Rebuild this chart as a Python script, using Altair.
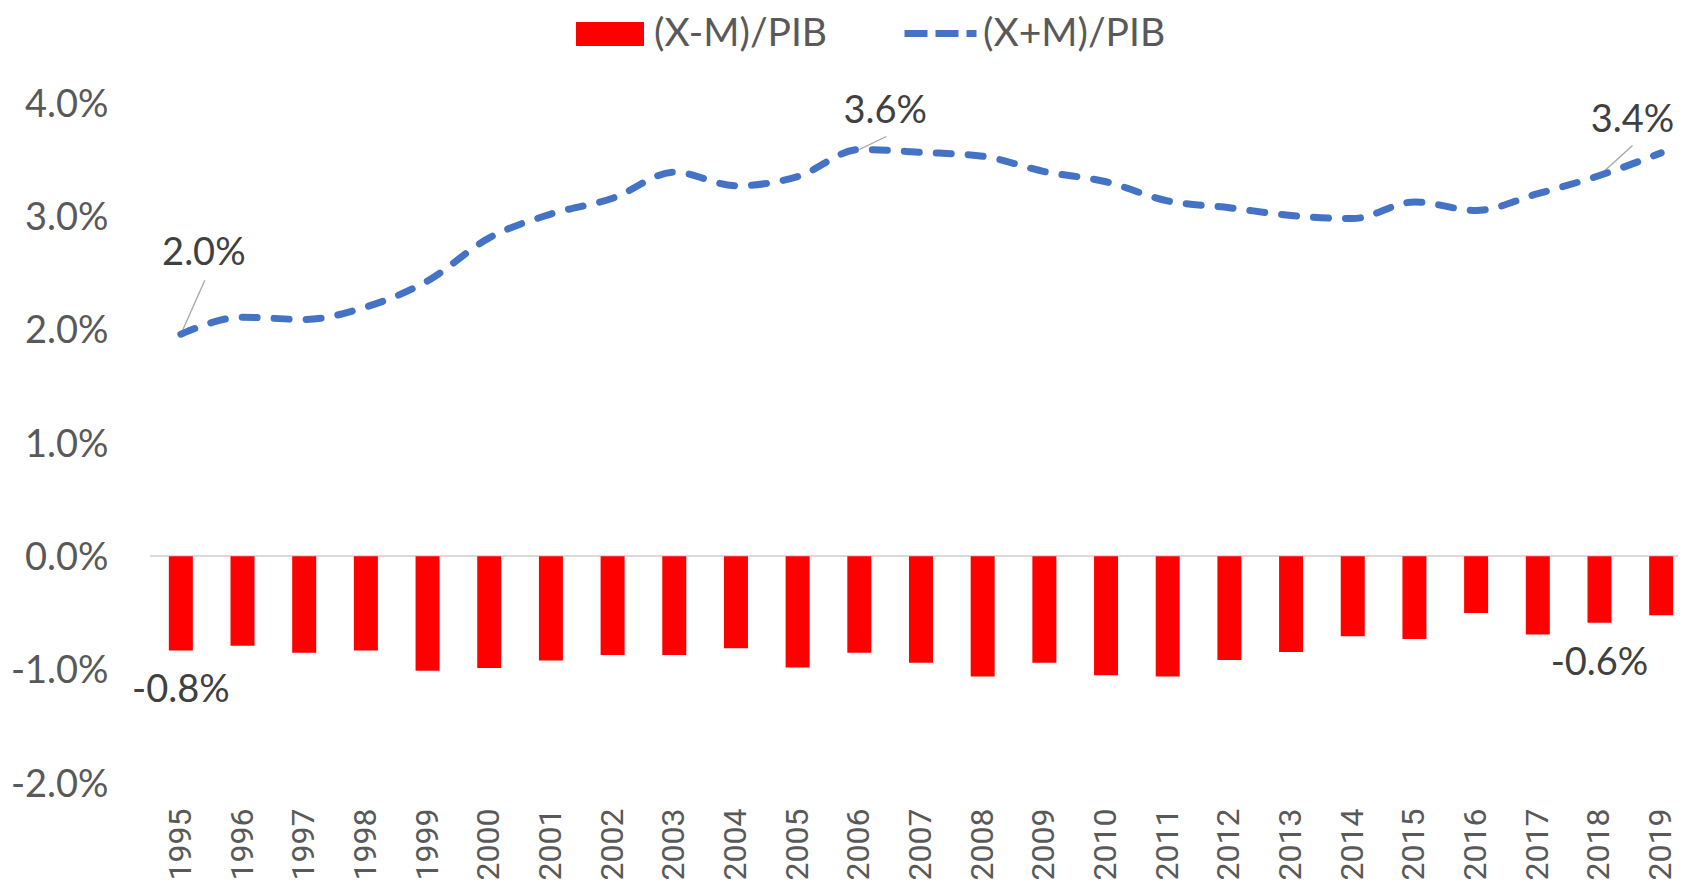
import altair as alt
import pandas as pd

years = [str(y) for y in range(1995, 2020)]
# (X-M)/PIB in %
balance = [-0.83, -0.79, -0.85, -0.83, -1.01, -0.985, -0.92, -0.87, -0.87, -0.81,
           -0.98, -0.85, -0.94, -1.06, -0.94, -1.05, -1.06, -0.915, -0.845, -0.705,
           -0.73, -0.50, -0.69, -0.585, -0.52]
# (X+M)/PIB in %
openness = [1.96, 2.11, 2.09, 2.20, 2.43, 2.81, 3.02, 3.16, 3.39, 3.27,
            3.35, 3.59, 3.565, 3.53, 3.395, 3.305, 3.136, 3.076, 3.007, 2.98,
            3.127, 3.052, 3.20, 3.36, 3.56]
y_ticks = [-0.02, -0.01, 0.0, 0.01, 0.02, 0.03, 0.04]
bar_name = "(X-M)/PIB"
line_name = "(X+M)/PIB"

df = pd.DataFrame({
    "year": years,
    "bal": [v / 100 for v in balance],
    "opn": [v / 100 for v in openness],
    "s1": bar_name,
    "s2": line_name,
})

LABEL_FONT = "Lato"
YEAR_FONT = "Roboto, sans-serif"
AXIS_GRAY = "#595959"
DATA_GRAY = "#404040"

x_enc = alt.X(
    "year:N",
    sort=years,
    scale=alt.Scale(range=[0, 1542], paddingInner=0.6, paddingOuter=0.3),
    axis=alt.Axis(
        title=None, labelAngle=-90, labelAlign="right", labelBaseline="middle",
        labelFont=YEAR_FONT, labelFontSize=32, labelColor=AXIS_GRAY,
        domain=False, ticks=False, tickSize=0, labelPadding=25, grid=False,
    ),
)
y_scale = alt.Scale(domain=[-0.02, 0.04], nice=False)
y_axis = alt.Axis(
    title=None, values=y_ticks,
    labelExpr="replace(format(datum.value, '.1%'), '\u2212', '-')",
    labelFont=LABEL_FONT, labelFontSize=38, labelColor=AXIS_GRAY,
    domain=False, ticks=False, tickSize=0, labelPadding=42, labelOffset=2,
    grid=False,
)

base = alt.Chart(df).transform_calculate(
    bal_lab="replace(format(datum.bal, '.1%'), '\u2212', '-')",
    opn_lab="replace(format(datum.opn, '.1%'), '\u2212', '-')",
)

zero = base.mark_rule(color="#D9D9D9", strokeWidth=1.5).encode(
    y=alt.datum(0, scale=y_scale, axis=y_axis)
)

bars = base.mark_bar(size=24).encode(
    x=x_enc,
    y=alt.Y("bal:Q", scale=y_scale, axis=y_axis),
    fill=alt.Fill(
        "s1:N",
        scale=alt.Scale(domain=[bar_name], range=["#FF0000"]),
        legend=alt.Legend(
            orient="none", legendX=426, legendY=-103, title=None,
            symbolType="M-1,-0.353H1V0.353H-1Z", symbolSize=4624,
            symbolStrokeWidth=0, labelFont=LABEL_FONT, labelFontSize=39,
            labelColor=AXIS_GRAY, labelOffset=10, labelLimit=400, padding=0,
        ),
    ),
)

line = base.mark_line(
    strokeWidth=7, strokeDash=[15, 17], strokeCap="round", interpolate="monotone"
).encode(
    x=x_enc,
    y=alt.Y("opn:Q", scale=y_scale, axis=y_axis),
    stroke=alt.Stroke(
        "s2:N",
        scale=alt.Scale(domain=[line_name], range=["#4472C4"]),
        legend=alt.Legend(
            orient="none", legendX=751, legendY=-109, title=None,
            symbolType="stroke", symbolSize=5184, symbolStrokeWidth=7,
            symbolDash=[23, 8], labelFont=LABEL_FONT, labelFontSize=39,
            labelColor=AXIS_GRAY, labelOffset=3, labelLimit=400, padding=0,
        ),
    ),
)

bar_labels = base.transform_filter(
    alt.FieldOneOfPredicate(field="year", oneOf=["1995", "2018"])
).mark_text(
    dy=41, font=LABEL_FONT, fontSize=38, color=DATA_GRAY, baseline="middle"
).encode(x=x_enc, y=alt.Y("bal:Q", scale=y_scale), text="bal_lab:N")


def line_note(year, dx, dy, lx, ly):
    sub = base.transform_filter(alt.datum.year == year)
    txt = sub.mark_text(
        dx=dx, dy=dy, font=LABEL_FONT, fontSize=38, color=DATA_GRAY, baseline="middle"
    ).encode(x=x_enc, y=alt.Y("opn:Q", scale=y_scale), text="opn_lab:N")
    lead = sub.mark_rule(color="#A6A6A6", strokeWidth=1.3, x2Offset=lx, y2Offset=ly).encode(
        x=alt.X("year:N", sort=years, bandPosition=0.5),
        x2=alt.X2("year:N", bandPosition=0.5),
        y=alt.Y("opn:Q", scale=y_scale),
        y2="opn:Q",
    )
    return [lead, txt]


notes = (line_note("1995", 23, -80, 24, -54)
         + line_note("2006", 26, -37, 27, -13)
         + line_note("2018", 33, -55, 33, -30))

chart = alt.layer(zero, bars, *notes, line, bar_labels).properties(
    width=1528, height=680,
    autosize=alt.AutoSizeParams(type="none"),
    padding={"left": 142, "top": 95, "right": 8, "bottom": 97},
    background="white",
).configure_view(stroke=None)

chart.save("out.html", embed_options={"renderer": "svg", "actions": False})
